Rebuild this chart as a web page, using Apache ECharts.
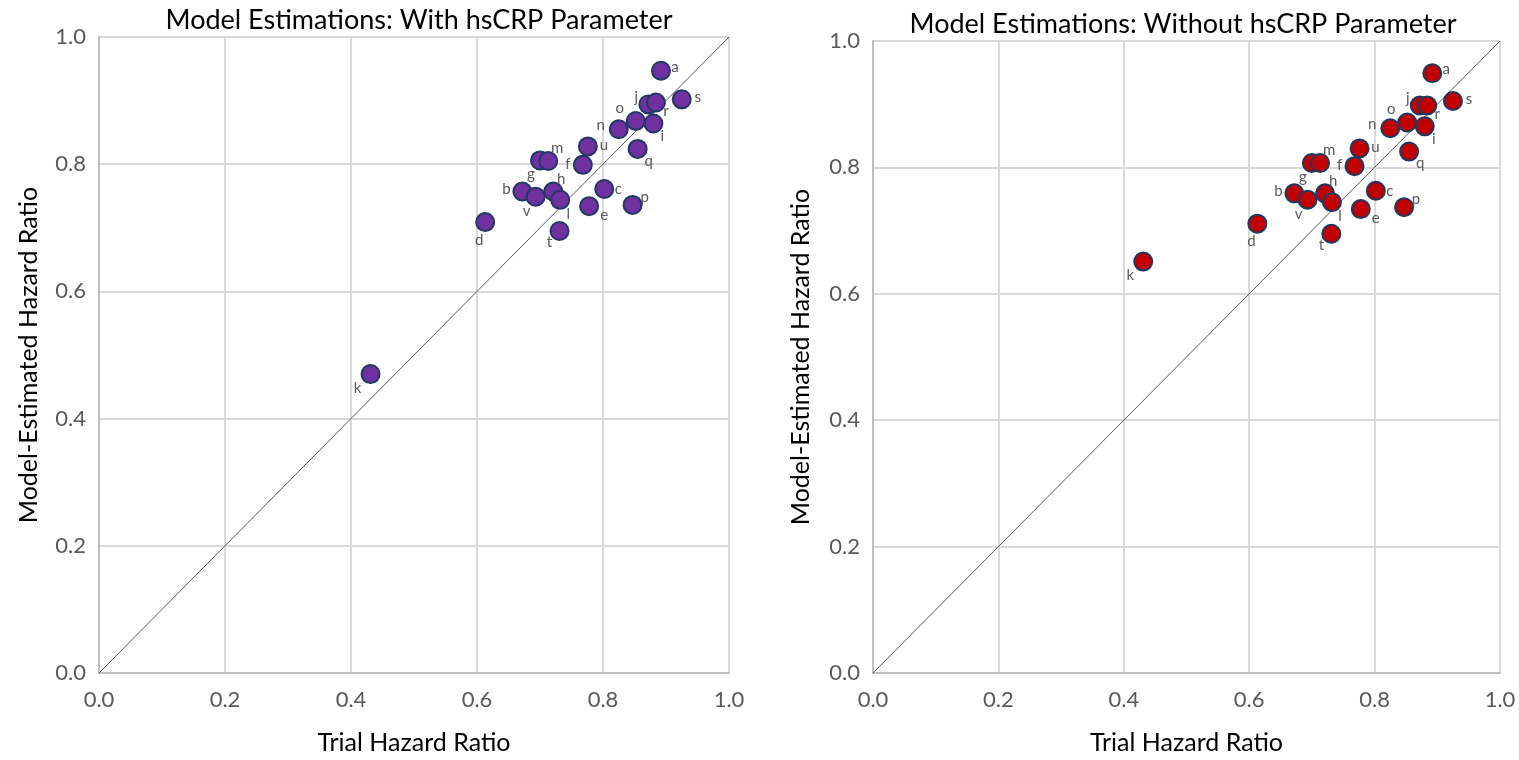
<!DOCTYPE html>
<html>
<head>
<meta charset="utf-8">
<script src="https://cdn.jsdelivr.net/npm/echarts@6/dist/echarts.min.js"></script>
<style>
  html, body { margin: 0; padding: 0; background: #fff; }
  #box { width: 1519px; height: 760px; }
</style>
</head>
<body>
<div id="box"></div>
<script>
// study labels a..v
const names = ["a","b","c","d","e","f","g","h","i","j","k","l","m","n","o","p","q","r","s","t","u","v"];
// trial hazard ratio (x)
const trialHR = [0.892,0.672,0.802,0.613,0.778,0.768,0.700,0.721,0.880,0.872,0.431,
                 0.732,0.713,0.825,0.852,0.847,0.855,0.884,0.925,0.731,0.776,0.693];
// model estimated hazard ratio, with hsCRP parameter
const withCRP = [0.947,0.757,0.761,0.709,0.734,0.799,0.806,0.757,0.864,0.894,0.470,
                 0.744,0.805,0.855,0.868,0.736,0.824,0.897,0.902,0.695,0.828,0.749];
// model estimated hazard ratio, without hsCRP parameter
const withoutCRP = [0.949,0.759,0.763,0.711,0.734,0.802,0.807,0.759,0.865,0.898,0.651,
                    0.745,0.807,0.862,0.871,0.737,0.825,0.898,0.905,0.695,0.830,0.749];
// identity line ends
const diagonal = [0, 1];
const axisTicks = [0, 0.2, 0.4, 0.6, 0.8, 1.0];

// where each little letter sits next to its point
const labelOffset = {
  a: [14, -4], b: [-16, -2], c: [14, 0], d: [-6, 18], e: [15, 9], f: [-15, -1],
  g: [-9, 14], h: [8, -12], i: [9, 13], j: [-12, -7], k: [-13, 14], l: [8, 14],
  m: [9, -13], n: [-18, -4], o: [-16, -13], p: [12, -8], q: [11, 12], r: [10, 9],
  s: [16, -2], t: [-10, 11], u: [16, -1], v: [-9, 15]
};

const font = "Lato, 'Open Sans', sans-serif";

function points(yArr) {
  return names.map((n, i) => ({
    name: n,
    value: [trialHR[i], yArr[i]],
    label: { offset: labelOffset[n] }
  }));
}

function xAxisFor(idx) {
  return {
    gridIndex: idx, type: "value", min: axisTicks[0], max: axisTicks[axisTicks.length - 1], interval: 0.2,
    name: "Trial Hazard Ratio", nameLocation: "middle", nameGap: 57,
    nameTextStyle: { color: "#000", fontSize: 25, fontFamily: font },
    axisLine: { lineStyle: { color: "#bfbfbf", width: 2 } },
    axisTick: { show: false },
    axisLabel: { color: "#595959", fontSize: 22, fontFamily: font, margin: 16, formatter: v => v.toFixed(1) },
    splitLine: { lineStyle: { color: "#d9d9d9", width: 2 } }
  };
}
function yAxisFor(idx, gap) {
  return {
    gridIndex: idx, type: "value", min: axisTicks[0], max: axisTicks[axisTicks.length - 1], interval: 0.2,
    name: "Model-Estimated Hazard Ratio", nameLocation: "middle", nameGap: gap,
    nameTextStyle: { color: "#000", fontSize: 25, fontFamily: font },
    axisLine: { show: true, lineStyle: { color: "#bfbfbf", width: 2 } },
    axisTick: { show: false },
    axisLabel: { color: "#595959", fontSize: 22, fontFamily: font, margin: 13, formatter: v => v.toFixed(1) },
    splitLine: { lineStyle: { color: "#d9d9d9", width: 2 } }
  };
}
function scatterFor(idx, yArr, fill) {
  return {
    type: "scatter", xAxisIndex: idx, yAxisIndex: idx,
    symbol: "circle", symbolSize: 18,
    itemStyle: { color: fill, borderColor: "#1f3864", borderWidth: 2, opacity: 1 },
    label: {
      show: true, position: "inside", formatter: "{b}",
      color: "#595959", fontSize: 15, fontFamily: font
    },
    z: 3,
    data: points(yArr)
  };
}
function diagFor(idx) {
  return {
    type: "line", xAxisIndex: idx, yAxisIndex: idx, symbol: "none", silent: true,
    lineStyle: { color: "#595959", width: 1 }, z: 2,
    data: [[diagonal[0], diagonal[0]], [diagonal[1], diagonal[1]]]
  };
}

let myCharts = echarts.init(document.getElementById("box"));
let option = {
  animation: false,
  backgroundColor: "#fff",
  title: [
    { text: "Model Estimations: With hsCRP Parameter", left: 414, top: 2, textAlign: "center",
      textStyle: { color: "#000", fontSize: 27, fontWeight: "normal", fontFamily: font } },
    { text: "Model Estimations: Without hsCRP Parameter", left: 1178, top: 6, textAlign: "center",
      textStyle: { color: "#000", fontSize: 27, fontWeight: "normal", fontFamily: font } }
  ],
  grid: [
    { left: 99, right: 790, top: 37, bottom: 85 },
    { left: 873, right: 19, top: 41, bottom: 84 }
  ],
  xAxis: [xAxisFor(0), xAxisFor(1)],
  yAxis: [yAxisFor(0, 58), yAxisFor(1, 60)],
  series: [
    diagFor(0),
    scatterFor(0, withCRP, "#7030a0"),
    diagFor(1),
    scatterFor(1, withoutCRP, "#c00000")
  ]
};
myCharts.setOption(option);
</script>
</body>
</html>
